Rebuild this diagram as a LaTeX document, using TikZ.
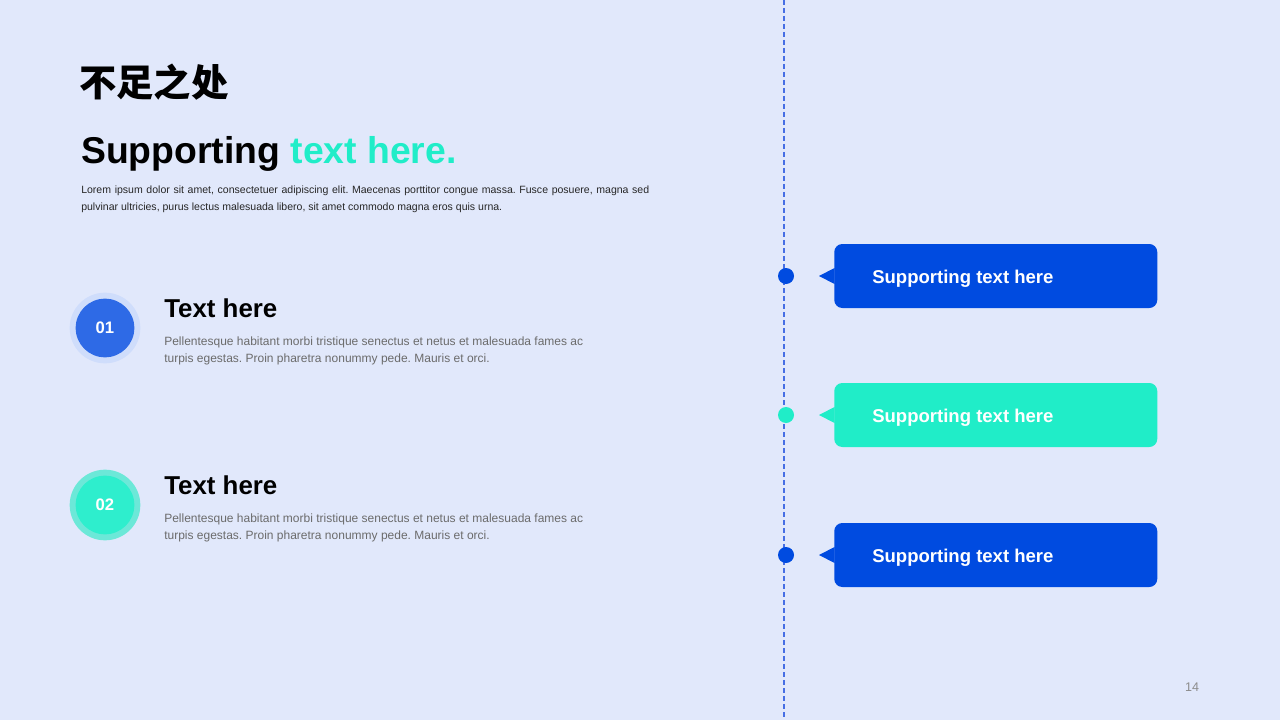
\documentclass[tikz,border=0pt]{standalone}
\usepackage{fontspec}
\setmainfont{Liberation Sans}
\newfontfamily\cjk{Noto Sans CJK SC}
\usepackage{xcolor}
\usetikzlibrary{positioning,calc}
\frenchspacing

\definecolor{bgpage}{RGB}{225,232,251}
\definecolor{deepblue}{RGB}{0,75,224}
\definecolor{mint}{RGB}{32,237,200}
\definecolor{roundblue}{RGB}{46,106,230}
\definecolor{haloblue}{RGB}{207,221,251}
\definecolor{roundmint}{RGB}{46,238,205}
\definecolor{halomint}{RGB}{108,232,216}
\definecolor{lineblue}{RGB}{70,110,228}
\definecolor{bodygray}{RGB}{107,107,107}

\begin{document}
\begin{tikzpicture}[x=0.75pt,y=-0.75pt,
	bubble/.style={fill=#1,rounded corners=6pt,minimum width=242.25pt,minimum height=48pt,inner sep=0pt},
	bubbletext/.style={anchor=base west,text=white,font=\fontsize{13.9pt}{16pt}\selectfont\bfseries,inner sep=0pt},
	dot/.style={circle,fill=#1,minimum size=12pt,inner sep=0pt},
	halo/.style={circle,fill=#1,minimum size=53pt,inner sep=0pt},
	badge/.style={circle,fill=#1,minimum size=44pt,inner sep=0pt,text=white,font=\fontsize{12.5pt}{14pt}\selectfont\bfseries},
	heading/.style={anchor=base west,inner sep=0pt,font=\fontsize{19.4pt}{22pt}\selectfont\bfseries},
	body/.style={anchor=base west,inner sep=0pt,text=bodygray,font=\fontsize{9pt}{12.75pt}\selectfont}
	]
		
		% page
		\fill[bgpage] (0,0) rectangle (1280,720);
		\useasboundingbox (0,0) rectangle (1280,720);
		
		% titles
		\node[
		anchor=west,
		inner sep=0pt,
		font=\cjk\fontsize{28pt}{30pt}\selectfont\bfseries
		]
		(title)
		at (79,82)
		{不足之处};
		
		\node[
		anchor=base west,
		inner sep=0pt,
		font=\fontsize{28pt}{30pt}\selectfont\bfseries
		]
		(subtitle)
		at (81,164)
		{Supporting \textcolor{mint}{text here.}};
		
		\node[
		anchor=base west,
		inner sep=0pt,
		text=black!85,
		font=\fontsize{7.9pt}{12.75pt}\selectfont
		]
		(intro)
		at (81,194)
		{\parbox[t]{426pt}{Lorem ipsum dolor sit amet, consectetuer adipiscing elit. Maecenas porttitor congue massa. Fusce posuere, magna sed\linebreak pulvinar ultricies, purus lectus malesuada libero, sit amet commodo magna eros quis urna.}};
		
		% left items
		\node[halo=haloblue] (h1) at (105,328) {};
		\node[badge=roundblue] (n1) at (h1) {01};
		\node[heading] (t1) at (164,317) {Text here};
		\node[body] (p1) at (164,345)
		{\parbox[t]{330pt}{\raggedright Pellentesque habitant morbi tristique senectus et netus et malesuada fames ac\\ turpis egestas. Proin pharetra nonummy pede. Mauris et orci.}};
		
		\node[halo=halomint] (h2) at (105,505) {};
		\node[badge=roundmint] (n2) at (h2) {02};
		\node[heading] (t2) at (164,494) {Text here};
		\node[body] (p2) at (164,522)
		{\parbox[t]{330pt}{\raggedright Pellentesque habitant morbi tristique senectus et netus et malesuada fames ac\\ turpis egestas. Proin pharetra nonummy pede. Mauris et orci.}};
		
		% timeline
		\coordinate (top) at (784,0);
		\coordinate (bottom) at (784,720);
		\draw[lineblue,line width=1.2pt,dash pattern=on 3.5pt off 2.5pt] (top)--(bottom);
		
		\node[dot=deepblue] (d1) at (786,276) {};
		\node[dot=mint] (d2) at (786,415) {};
		\node[dot=deepblue] (d3) at (786,555) {};
		
		\node[bubble=deepblue,anchor=west] (b1) at (834,276) {};
		\node[bubble=mint,anchor=west] (b2) at (834,415) {};
		\node[bubble=deepblue,anchor=west] (b3) at (834,555) {};
		
		\fill[deepblue] ($(b1.west)+(0.5,-8)$)--($(b1.west)+(-15,0)$)--($(b1.west)+(0.5,8)$)--cycle;
		\fill[mint] ($(b2.west)+(0.5,-8)$)--($(b2.west)+(-15,0)$)--($(b2.west)+(0.5,8)$)--cycle;
		\fill[deepblue] ($(b3.west)+(0.5,-8)$)--($(b3.west)+(-15,0)$)--($(b3.west)+(0.5,8)$)--cycle;
		
		\node[bubbletext] (s1) at ($(b1.west)+(38,7)$) {Supporting text here};
		\node[bubbletext] (s2) at ($(b2.west)+(38,7)$) {Supporting text here};
		\node[bubbletext] (s3) at ($(b3.west)+(38,7)$) {Supporting text here};
		
		% page number
		\node[
		text=black!45,
		font=\fontsize{9.4pt}{11pt}\selectfont
		]
		(pageno)
		at (1192,687)
		{14};
		
	\end{tikzpicture}
\end{document}
